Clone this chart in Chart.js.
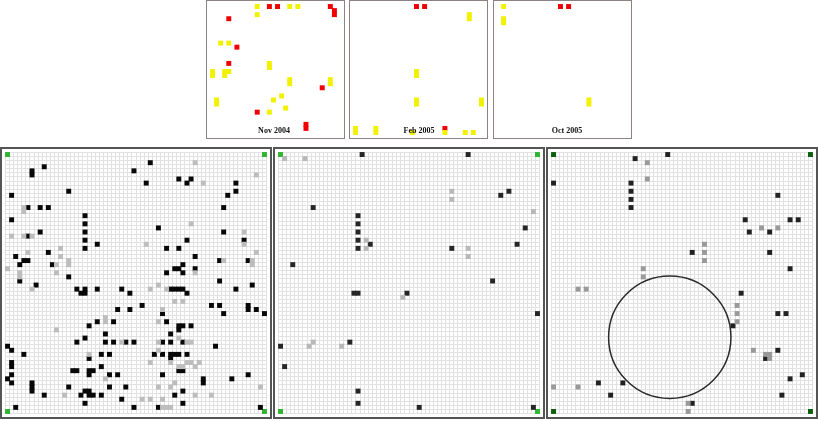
<!DOCTYPE html>
<html>
<head>
<meta charset="utf-8">
<script src="https://cdn.jsdelivr.net/npm/chart.js@4.4.0/dist/chart.umd.min.js"></script>
<style>
  body { margin: 0; width: 818px; height: 421px; overflow: hidden; background: #fff; position: relative; }
  .mini { position: absolute; top: 0; border: 1px solid #8c8282; width: 137px; height: 137px; }
  .big { position: absolute; top: 147px; border: 2px solid #555; width: 268px; height: 268px; }
  .rotulo { position: absolute; top: 126px; font: bold 8px "Liberation Serif", serif; color: #111; transform: translateX(-50%); white-space: nowrap; }
  canvas { display: block; }
</style>
</head>
<body>
<div class="mini" style="left:206px"><canvas id="nov" width="137" height="137"></canvas></div>
<div class="mini" style="left:349px"><canvas id="feb" width="137" height="137"></canvas></div>
<div class="mini" style="left:493px"><canvas id="oct" width="137" height="137"></canvas></div>
<div class="rotulo" style="left:274px">Nov 2004</div>
<div class="rotulo" style="left:419px">Feb 2005</div>
<div class="rotulo" style="left:567px">Oct 2005</div>

<div class="big" style="left:0px"><canvas id="grade1" width="268" height="268"></canvas></div>
<div class="big" style="left:273px"><canvas id="grade2" width="268" height="268"></canvas></div>
<div class="big" style="left:546px"><canvas id="grade3" width="268" height="268"></canvas></div>

<script>
// cells as [column, row], row 0 at the top
const miniCells = 32;
const gridCells = 64;

const nov2004Yellow = [[11,0],[11,2],[19,0],[21,0],[2,9],[4,9],[14,14],[14,15],[0,16],[0,17],[3,16],[3,17],[4,16],
  [19,18],[19,19],[29,18],[29,19],[17,22],[1,23],[1,24],[15,23],[18,25],[14,26]];
const nov2004Red = [[14,0],[16,0],[29,0],[30,1],[30,2],[4,3],[6,10],[4,14],[27,20],[11,26],[23,29],[23,30]];

const feb2005Yellow = [[28,2],[28,3],[15,16],[15,17],[15,23],[15,24],[31,23],[31,24],[0,30],[0,31],[5,30],[5,31],
  [14,31],[22,31],[27,31],[29,31]];
const feb2005Red = [[15,0],[17,0],[22,30]];

const oct2005Yellow = [[1,0],[1,3],[1,4],[22,23],[22,24]];
const oct2005Red = [[15,0],[17,0]];

const corners = [[0,0],[63,0],[0,63],[63,63]];

const grid1Black = [[9,3],[6,4],[6,5],[31,4],[1,10],[15,9],[5,13],[8,13],[10,13],[1,16],[19,15],[19,17],[19,19],
  [19,21],[19,23],[22,22],[8,19],[5,20],[2,25],[10,24],[3,27],[4,26],[5,26],[11,27],[15,30],[3,31],[7,32],
  [35,2],[34,7],[42,6],[44,7],[45,6],[56,7],[56,9],[54,10],[53,13],[37,18],[53,19],[44,21],[58,21],[39,23],
  [42,23],[46,25],[52,26],[59,26],[43,27],[41,28],[42,28],[43,29],[46,28],[39,29],[52,31],[60,32],
  [17,33],[18,34],[19,34],[19,33],[22,33],[28,33],[30,34],[27,38],[30,38],[22,41],[26,41],[20,42],[24,44],
  [19,45],[17,46],[24,46],[26,46],[29,46],[31,46],[0,47],[1,48],[4,49],[23,49],[25,49],[20,50],[1,51],[1,52],
  [23,52],[16,53],[17,53],[20,53],[21,53],[20,54],[25,54],[27,54],[1,54],[0,55],[1,56],[6,56],[6,57],[6,58],
  [15,57],[25,57],[29,57],[19,58],[20,58],[18,59],[20,59],[21,59],[23,59],[9,59],[28,60],[19,61],[2,62],[31,62],
  [40,33],[41,33],[42,33],[43,33],[44,34],[56,33],[33,37],[50,37],[52,37],[59,37],[59,38],[61,38],[63,39],
  [38,39],[53,39],[39,41],[42,42],[43,42],[42,43],[45,42],[40,44],[38,46],[40,46],[43,46],[51,47],[36,49],
  [38,49],[40,49],[41,49],[42,49],[40,50],[44,49],[42,53],[43,53],[38,54],[48,55],[48,56],[55,55],[59,54],
  [43,58],[41,59],[43,61],[37,62],[62,62]];
const grid1Gray = [[4,13],[4,14],[1,20],[4,20],[6,20],[13,23],[13,25],[15,26],[15,27],[12,27],[12,29],[5,24],
  [0,28],[3,29],[3,30],[46,2],[61,5],[48,7],[45,17],[34,22],[58,19],[58,22],[61,24],[53,26],[60,26],[60,27],
  [46,29],[37,32],[6,33],[12,43],[24,40],[24,41],[20,49],[28,46],[24,55],[14,59],[35,33],[39,33],[41,36],
  [43,36],[38,38],[37,41],[42,45],[37,46],[44,46],[45,46],[37,48],[35,51],[40,51],[44,51],[45,51],[47,51],
  [42,52],[43,52],[46,52],[41,56],[37,57],[40,57],[46,59],[50,59],[33,60],[35,60],[38,60],[38,62],[39,62],
  [40,62],[62,57]];

const grid2Black = [[20,0],[8,13],[19,15],[19,17],[19,19],[19,21],[19,23],[22,22],[3,27],[46,0],[54,10],[56,9],
  [60,18],[58,22],[42,23],[52,31],[31,34],[63,39],[34,62],[62,62],[18,34],[19,34],[0,47],[17,46],[1,52],
  [19,58],[19,61]];
const grid2Gray = [[1,1],[6,1],[21,21],[21,23],[42,9],[42,11],[62,14],[46,23],[46,25],[30,35],[7,47],[8,46],[15,47]];

const grid3Black = [[20,1],[28,0],[0,7],[19,7],[19,9],[19,11],[19,13],[11,56],[17,56],[14,59],[55,10],[47,16],
  [58,16],[60,16],[48,19],[53,19],[34,24],[53,24],[58,28],[46,34],[44,42],[55,39],[57,39],[52,50],[55,48],
  [58,55],[61,54],[56,59],[34,61]];
const grid3Gray = [[23,2],[23,6],[22,28],[22,30],[6,33],[8,33],[0,57],[6,57],[51,18],[55,18],[37,22],[37,24],
  [37,26],[45,37],[45,39],[45,41],[49,48],[52,49],[53,49],[53,50],[33,61],[33,63]];

// circle on the third grid: centre [column, row] and radius, in cells
const circleCenter = [29, 45.3];
const circleRadius = 15;

function pontos(lista) {
  return lista.map(p => ({ x: p[0] + 0.5, y: p[1] + 0.5 }));
}

function serie(lista, cor) {
  return {
    data: pontos(lista),
    pointStyle: 'rect',
    pointRadius: 3.5,
    pointHoverRadius: 3.5,
    pointBorderWidth: 0,
    backgroundColor: cor,
    borderColor: cor,
    clip: false
  };
}

const circuloPlugin = {
  id: 'circulo',
  afterDatasetsDraw(chart, args, opts) {
    if (!opts.center) return;
    const { ctx, scales } = chart;
    const cx = scales.x.getPixelForValue(opts.center[0]);
    const cy = scales.y.getPixelForValue(opts.center[1]);
    const r = scales.x.getPixelForValue(opts.radius) - scales.x.getPixelForValue(0);
    ctx.save();
    ctx.beginPath();
    ctx.arc(cx, cy, r, 0, Math.PI * 2);
    ctx.strokeStyle = '#2a2a2a';
    ctx.lineWidth = 1.5;
    ctx.stroke();
    ctx.restore();
  }
};

function criarMini(id, amarelo, vermelho) {
  new Chart(document.getElementById(id), {
    type: 'scatter',
    data: { datasets: [serie(amarelo, '#f2f200'), serie(vermelho, '#f00000')] },
    options: {
      responsive: false,
      animation: false,
      events: [],
      layout: { padding: 0 },
      plugins: { legend: { display: false }, tooltip: { enabled: false } },
      scales: {
        x: { display: false, min: 0, max: miniCells },
        y: { display: false, min: 0, max: miniCells, reverse: true }
      }
    }
  });
}

function criarGrade(id, preto, cinza, corPreto, corCinza, corCanto, circulo) {
  const eixo = {
    min: 0,
    max: gridCells,
    ticks: { display: false, stepSize: 1 },
    grid: { color: '#e2e2e2', lineWidth: 1, drawTicks: false },
    border: { display: false }
  };
  new Chart(document.getElementById(id), {
    type: 'scatter',
    data: { datasets: [serie(cinza, corCinza), serie(preto, corPreto), serie(corners, corCanto)] },
    options: {
      responsive: false,
      animation: false,
      events: [],
      layout: { padding: 0 },
      plugins: { legend: { display: false }, tooltip: { enabled: false }, circulo: circulo || {} },
      scales: { x: { ...eixo }, y: { ...eixo, reverse: true } }
    },
    plugins: [circuloPlugin]
  });
}

criarMini('nov', nov2004Yellow, nov2004Red);
criarMini('feb', feb2005Yellow, feb2005Red);
criarMini('oct', oct2005Yellow, oct2005Red);

criarGrade('grade1', grid1Black, grid1Gray, '#080808', '#bdbdbd', '#2fb52f');
criarGrade('grade2', grid2Black, grid2Gray, '#262626', '#b8b8b8', '#2fb52f');
criarGrade('grade3', grid3Black, grid3Gray, '#222222', '#9a9a9a', '#0b5e0b', { center: circleCenter, radius: circleRadius });
</script>
</body>
</html>
